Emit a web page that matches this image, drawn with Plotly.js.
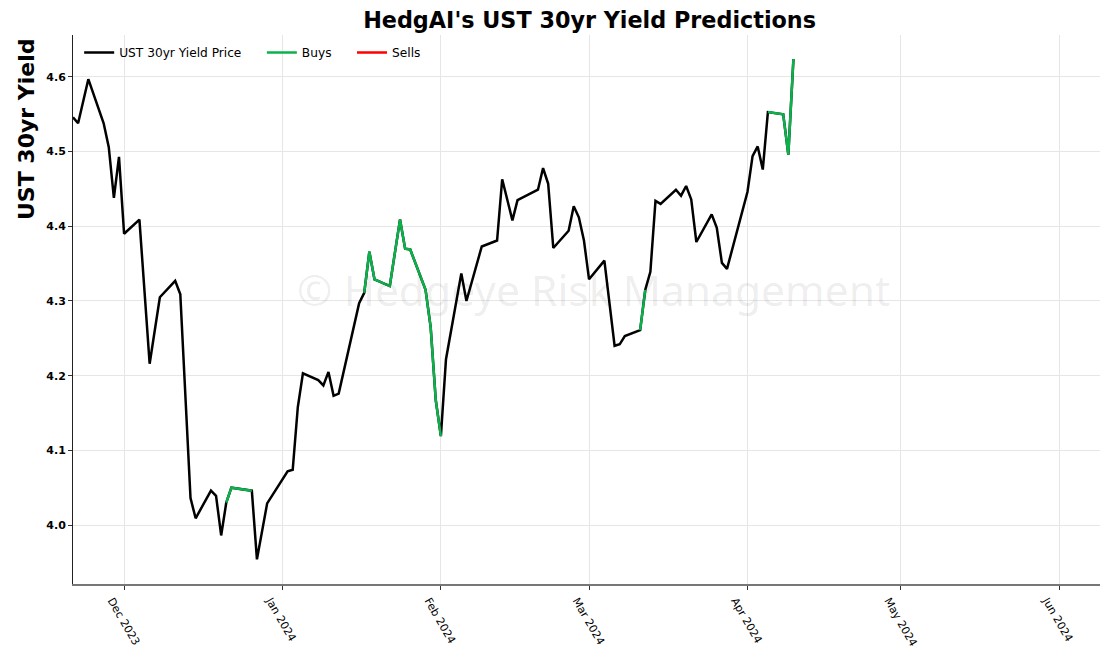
<!DOCTYPE html>
<html>
<head>
<meta charset="utf-8">
<script src="https://cdn.plot.ly/plotly-3.0.1.min.js"></script>
<style>
  html, body { margin: 0; padding: 0; background: #ffffff; }
  #chart { width: 1102px; height: 654px; }
</style>
</head>
<body>
<div id="chart"></div>
<script>
// ---- Data ----
const dates = [
  '2023-11-21','2023-11-22','2023-11-24','2023-11-27','2023-11-28','2023-11-29','2023-11-30',
  '2023-12-01','2023-12-04','2023-12-06','2023-12-08','2023-12-11','2023-12-12','2023-12-14',
  '2023-12-15','2023-12-18','2023-12-19','2023-12-20','2023-12-21','2023-12-22','2023-12-26',
  '2023-12-27','2023-12-29',
  '2024-01-02','2024-01-03','2024-01-04','2024-01-05','2024-01-08','2024-01-09','2024-01-10',
  '2024-01-11','2024-01-12','2024-01-16','2024-01-17','2024-01-18','2024-01-19','2024-01-22',
  '2024-01-24','2024-01-25','2024-01-26','2024-01-29','2024-01-30','2024-01-31',
  '2024-02-01','2024-02-02','2024-02-05','2024-02-06','2024-02-09','2024-02-12','2024-02-13',
  '2024-02-15','2024-02-16','2024-02-20','2024-02-21','2024-02-22','2024-02-23','2024-02-26',
  '2024-02-27','2024-02-28','2024-02-29',
  '2024-03-01','2024-03-04','2024-03-06','2024-03-07','2024-03-08','2024-03-11','2024-03-12',
  '2024-03-13','2024-03-14','2024-03-15','2024-03-18','2024-03-19','2024-03-20','2024-03-21',
  '2024-03-22','2024-03-25','2024-03-26','2024-03-27','2024-03-28',
  '2024-04-01','2024-04-02','2024-04-03','2024-04-04','2024-04-05','2024-04-08','2024-04-09',
  '2024-04-10'
];
const yields = [
  4.546, 4.538, 4.597, 4.538, 4.506, 4.438, 4.493,
  4.390, 4.409, 4.216, 4.305, 4.327, 4.309, 4.036,
  4.009, 4.046, 4.039, 3.986, 4.030, 4.050, 4.046,
  3.954, 4.029,
  4.072, 4.074, 4.158, 4.203, 4.194, 4.187, 4.205,
  4.173, 4.176, 4.297, 4.311, 4.366, 4.329, 4.320,
  4.409, 4.370, 4.369, 4.315, 4.265, 4.167,
  4.119, 4.222, 4.337, 4.300, 4.373, 4.381, 4.463,
  4.408, 4.435, 4.449, 4.478, 4.457, 4.371, 4.394,
  4.427, 4.412, 4.381,
  4.329, 4.354, 4.240, 4.242, 4.253, 4.261, 4.315,
  4.339, 4.434, 4.430, 4.449, 4.441, 4.454, 4.436,
  4.379, 4.416, 4.398, 4.351, 4.343,
  4.446, 4.494, 4.507, 4.476, 4.553, 4.550, 4.496,
  4.624
];
// Periods flagged as buys (start, end inclusive)
const buyRanges = [
  ['2023-12-21', '2023-12-26'],
  ['2024-01-17', '2024-02-01'],
  ['2024-03-11', '2024-03-12'],
  ['2024-04-05', '2024-04-10']
];
// Periods flagged as sells (none in this chart)
const sellRanges = [];

const seriesNames = ['UST 30yr Yield Price', 'Buys', 'Sells'];
const tickLabels = ['Dec 2023','Jan 2024','Feb 2024','Mar 2024','Apr 2024','May 2024','Jun 2024'];
const tickDates  = ['2023-12-01','2024-01-01','2024-02-01','2024-03-01','2024-04-01','2024-05-01','2024-06-01'];
const yTicks = [4.0, 4.1, 4.2, 4.3, 4.4, 4.5, 4.6];

// ---- Build series ----
function maskRanges(ranges) {
  return dates.map((d, i) => {
    for (const r of ranges) { if (d >= r[0] && d <= r[1]) return yields[i]; }
    return null;
  });
}
const buys = maskRanges(buyRanges);
const sells = maskRanges(sellRanges);

const FONT = 'DejaVu Sans, Verdana, sans-serif';
const PAD = '\u00a0\u00a0\u00a0\u00a0';

const traces = [
  { x: dates, y: yields, type: 'scatter', mode: 'lines', name: seriesNames[0] + PAD,
    line: { color: '#000000', width: 2.5 }, hoverinfo: 'skip' },
  { x: dates, y: buys, type: 'scatter', mode: 'lines', name: seriesNames[1] + PAD,
    connectgaps: false, line: { color: '#0db14b', width: 2.5 }, hoverinfo: 'skip' },
  { x: dates, y: sells, type: 'scatter', mode: 'lines', name: seriesNames[2],
    connectgaps: false, line: { color: '#ff0000', width: 2.5 }, hoverinfo: 'skip' }
];

const layout = {
  width: 1102, height: 654,
  paper_bgcolor: '#ffffff', plot_bgcolor: '#ffffff',
  margin: { l: 73, r: 2, t: 35, b: 70, pad: 0 },
  font: { family: FONT, color: '#000000' },
  title: {
    text: "HedgAI's UST 30yr Yield Predictions",
    font: { family: FONT, size: 22.3, color: '#000000', weight: 'bold' },
    x: 0.503, xref: 'paper', xanchor: 'center',
    y: 1 - 20/654, yref: 'container', yanchor: 'middle'
  },
  showlegend: true,
  legend: {
    orientation: 'h', x: 0.006, xanchor: 'left', y: 0.9945, yanchor: 'top',
    bgcolor: 'rgba(0,0,0,0)', borderwidth: 0,
    font: { family: FONT, size: 12.2, color: '#000000' },
    itemwidth: 30, traceorder: 'normal'
  },
  xaxis: {
    type: 'date',
    range: ['2023-11-21', '2024-06-09'],
    tickmode: 'array', tickvals: tickDates, ticktext: tickLabels,
    tickangle: 60, ticklabelshift: -12,
    tickfont: { family: FONT, size: 11, color: '#000000' },
    ticks: 'outside', ticklen: 4, tickwidth: 1, tickcolor: '#333333',
    showgrid: true, gridcolor: '#e6e6e6', gridwidth: 1,
    showline: true, linecolor: '#777777', linewidth: 2,
    zeroline: false, automargin: false
  },
  yaxis: {
    range: [3.921, 4.6562],
    tickmode: 'array', tickvals: yTicks, ticktext: yTicks.map(v => v.toFixed(1)),
    tickfont: { family: FONT, size: 11, color: '#000000', weight: 'bold' },
    ticks: 'outside', ticklen: 4, tickwidth: 1, tickcolor: '#333333',
    showgrid: true, gridcolor: '#e6e6e6', gridwidth: 1,
    showline: true, linecolor: '#222222', linewidth: 1,
    zeroline: false, automargin: false
  },
  annotations: [
    {
      text: '© Hedgeye Risk Management',
      xref: 'paper', yref: 'paper', x: 0.507, y: 0.536,
      xanchor: 'center', yanchor: 'middle', showarrow: false,
      font: { family: 'Noto Sans, sans-serif', size: 42.5, color: 'rgba(0,0,0,0.08)' }
    },
    {
      text: 'UST 30yr Yield',
      xref: 'paper', yref: 'paper', x: (26 - 73) / 1027, y: (584 - 129) / 549,
      xanchor: 'center', yanchor: 'middle', showarrow: false, textangle: -90,
      font: { family: FONT, size: 22, color: '#000000', weight: 'bold' }
    }
  ]
};

Plotly.newPlot('chart', traces, layout, { staticPlot: true, displayModeBar: false });
</script>
</body>
</html>
